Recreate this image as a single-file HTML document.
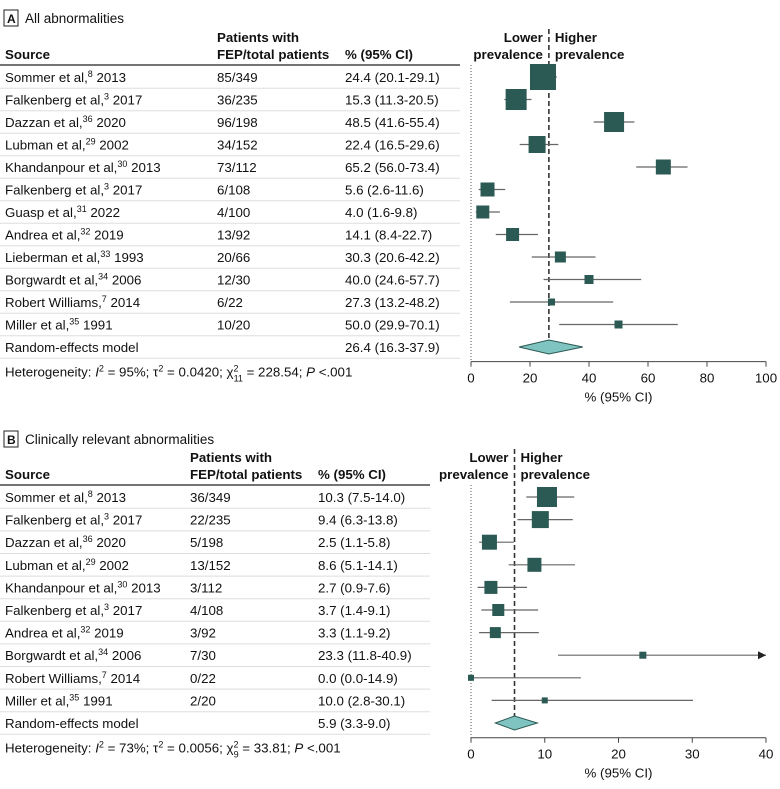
<!DOCTYPE html>
<html><head><meta charset="utf-8"><style>
html,body{margin:0;padding:0;background:#fff;}
svg{display:block;font-family:"Liberation Sans",sans-serif;}
text{fill:#111;}
</style></head><body>
<svg id="c" width="780" height="789" viewBox="0 0 780 789" xmlns="http://www.w3.org/2000/svg"></svg>
<script>
// Panel A data
const aSources=["Sommer et al,","Falkenberg et al,","Dazzan et al,","Lubman et al,","Khandanpour et al,","Falkenberg et al,","Guasp et al,","Andrea et al,","Lieberman et al,","Borgwardt et al,","Robert Williams,","Miller et al,"];
const aRefs=["8","3","36","29","30","3","31","32","33","34","7","35"];
const aYears=["2013","2017","2020","2002","2013","2017","2022","2019","1993","2006","2014","1991"];
const aCounts=["85/349","36/235","96/198","34/152","73/112","6/108","4/100","13/92","20/66","12/30","6/22","10/20"];
const aEst=[24.4,15.3,48.5,22.4,65.2,5.6,4.0,14.1,30.3,40.0,27.3,50.0];
const aLo=[20.1,11.3,41.6,16.5,56.0,2.6,1.6,8.4,20.6,24.6,13.2,29.9];
const aHi=[29.1,20.5,55.4,29.6,73.4,11.6,9.8,22.7,42.2,57.7,48.2,70.1];
const aWeight=[26,21,20,17,15,14,13,13,11,9,7,8];
const aModel=[26.4,16.3,37.9];
const aTicks=[0,20,40,60,80,100];
// Panel B data
const bSources=["Sommer et al,","Falkenberg et al,","Dazzan et al,","Lubman et al,","Khandanpour et al,","Falkenberg et al,","Andrea et al,","Borgwardt et al,","Robert Williams,","Miller et al,"];
const bRefs=["8","3","36","29","30","3","32","34","7","35"];
const bYears=["2013","2017","2020","2002","2013","2017","2019","2006","2014","1991"];
const bCounts=["36/349","22/235","5/198","13/152","3/112","4/108","3/92","7/30","0/22","2/20"];
const bEst=[10.3,9.4,2.5,8.6,2.7,3.7,3.3,23.3,0.0,10.0];
const bLo=[7.5,6.3,1.1,5.1,0.9,1.4,1.1,11.8,0.0,2.8];
const bHi=[14.0,13.8,5.8,14.1,7.6,9.1,9.2,40.9,14.9,30.1];
const bWeight=[20,17,15,14,13,12,11,7,6,6];
const bModel=[5.9,3.3,9.0];
const bTicks=[0,10,20,30,40];

const NS="http://www.w3.org/2000/svg";
const svg=document.getElementById('c');
function el(tag,attrs,parent){const e=document.createElementNS(NS,tag);for(const k in attrs)e.setAttribute(k,attrs[k]);(parent||svg).appendChild(e);return e;}
function txt(x,y,s,opts,parent){const t=el('text',Object.assign({x:x,y:y,'font-size':13.3},opts||{}),parent);t.textContent=s;return t;}

function panel(cfg){
  const g=el('g',{});
  
  
  const X=v=>cfg.x0+(v-cfg.min)/(cfg.max-cfg.min)*(cfg.x1-cfg.x0);
  const Y=i=>cfg.row0+i*cfg.step;
  const box=el('rect',{x:4,y:cfg.titleY-12,width:14,height:16,fill:'none',stroke:'#222','stroke-width':1},g);
  
  
  const lt=txt(7,cfg.titleY+1,cfg.letter,{'font-weight':'bold','font-size':12},g);
  
  
  const tt=txt(25,cfg.titleY+1,cfg.title,{'font-size':13.5},g);
  
  
  const h1=txt(5,cfg.headY,'Source',{'font-weight':'bold'},g);
  
  
  const h2=txt(cfg.colP,cfg.headY-17,'Patients with',{'font-weight':'bold'},g);
  
  
  txt(cfg.colP,cfg.headY,'FEP/total patients',{'font-weight':'bold'},g);
  const h3=txt(cfg.colC,cfg.headY,'% (95% CI)',{'font-weight':'bold'},g);
  
  
  el('line',{x1:0,x2:cfg.tableW,y1:cfg.headY+6,y2:cfg.headY+6,stroke:'#222','stroke-width':1.3},g);
  const xm=X(cfg.model[0]);
  const pl=txt(xm-6,cfg.headY-17,'Lower',{'text-anchor':'end','font-weight':'bold'},g);
  
  
  txt(xm-6,cfg.headY,'prevalence',{'text-anchor':'end','font-weight':'bold'},g);
  const ph=txt(xm+6,cfg.headY-17,'Higher',{'font-weight':'bold'},g);
  
  
  txt(xm+6,cfg.headY,'prevalence',{'font-weight':'bold'},g);
  const n=cfg.est.length;
  const axisY=Y(n)+cfg.step*0.65;
  el('line',{x1:X(0),x2:X(0),y1:cfg.headY+6,y2:axisY,stroke:'#555','stroke-dasharray':'1,2','stroke-width':1},g);
  const dl=el('line',{x1:xm,x2:xm,y1:cfg.headY-30,y2:Y(n),stroke:'#333','stroke-dasharray':'5,3','stroke-width':1.6},g);
  
  
  for(let i=0;i<n;i++){
    const y=Y(i);
    const r=el('g',{},g);
    
    
    const t=el('text',{x:5,y:y+5,'font-size':13.3},r);
    t.textContent=cfg.src[i];
    const sp=el('tspan',{'font-size':9,dy:-5},t);sp.textContent=cfg.refs[i];
    const sp2=el('tspan',{dy:5},t);sp2.textContent=' '+cfg.years[i];
    txt(cfg.colP,y+5,cfg.counts[i],{},r);
    txt(cfg.colC,y+5,cfg.est[i].toFixed(1)+' ('+cfg.lo[i].toFixed(1)+'-'+cfg.hi[i].toFixed(1)+')',{},r);
    el('line',{x1:0,x2:cfg.tableW,y1:y+cfg.step/2,y2:y+cfg.step/2,stroke:'#ddd','stroke-width':1},r);
    const hiV=Math.min(cfg.hi[i],cfg.max);
    const ci=el('line',{x1:X(cfg.lo[i]),x2:X(hiV),y1:y,y2:y,stroke:'#666','stroke-width':1.2},r);
    
    
    if(cfg.hi[i]>cfg.max){
      const ar=el('path',{d:`M${X(cfg.max)} ${y} l-8 -4 l0 8 z`,fill:'#222'},r);
      
      
    }
    const s=cfg.w[i];
    const sq=el('rect',{x:X(cfg.est[i])-s/2,y:y-s/2,width:s,height:s,fill:'#2b5954'},r);
    
    
  }
  const ym=Y(n);
  const mt=txt(5,ym+5,'Random-effects model',{},g);
  
  
  txt(cfg.colC,ym+5,cfg.model[0].toFixed(1)+' ('+cfg.model[1].toFixed(1)+'-'+cfg.model[2].toFixed(1)+')',{},g);
  el('line',{x1:0,x2:cfg.tableW,y1:ym+cfg.step/2,y2:ym+cfg.step/2,stroke:'#ddd','stroke-width':1},g);
  const dm=el('path',{d:`M${X(cfg.model[1])} ${ym} L${xm} ${ym-7} L${X(cfg.model[2])} ${ym} L${xm} ${ym+7} Z`,fill:'#7fc4c0',stroke:'#2b5954','stroke-width':1},g);
  
  
  const ht=el('text',{x:5,y:ym+cfg.step+7,'font-size':13.3},g);
  
  
  ht.innerHTML='Heterogeneity: <tspan font-style="italic">I</tspan><tspan font-size="9" dy="-5">2</tspan><tspan dy="5"> = '+cfg.het[0]+'; τ</tspan><tspan font-size="9" dy="-5">2</tspan><tspan dy="5"> = '+cfg.het[1]+'; χ</tspan><tspan font-size="9" dy="-5">2</tspan><tspan font-size="9" dx="-5" dy="10">'+cfg.het[2]+'</tspan><tspan dy="-5"> = '+cfg.het[3]+'; </tspan><tspan font-style="italic">P</tspan><tspan> &lt;.001</tspan>';
  const ax=el('line',{x1:cfg.x0,x2:cfg.x1,y1:axisY,y2:axisY,stroke:'#444','stroke-width':1},g);
  
  
  cfg.ticks.forEach(v=>{
    el('line',{x1:X(v),x2:X(v),y1:axisY,y2:axisY+5,stroke:'#444'},g);
    const tl=txt(X(v),axisY+21,String(v),{'text-anchor':'middle'},g);
    
    
  });
  const xl=txt((cfg.x0+cfg.x1)/2,axisY+40,'% (95% CI)',{'text-anchor':'middle'},g);
  
  
}
panel({name:'panel-a',letter:'A',title:'All abnormalities',titleY:22,headY:59,colP:217,colC:345,tableW:460,
  x0:471,x1:766,min:0,max:100,row0:77,step:22.5,src:aSources,refs:aRefs,years:aYears,counts:aCounts,
  est:aEst,lo:aLo,hi:aHi,w:aWeight,model:aModel,ticks:aTicks,het:['95%','0.0420','11','228.54']});
panel({name:'panel-b',letter:'B',title:'Clinically relevant abnormalities',titleY:443,headY:479,colP:190,colC:318,tableW:430,
  x0:471,x1:766,min:0,max:40,row0:497,step:22.6,src:bSources,refs:bRefs,years:bYears,counts:bCounts,
  est:bEst,lo:bLo,hi:bHi,w:bWeight,model:bModel,ticks:bTicks,het:['73%','0.0056','9','33.81']});
</script>
</body></html>
